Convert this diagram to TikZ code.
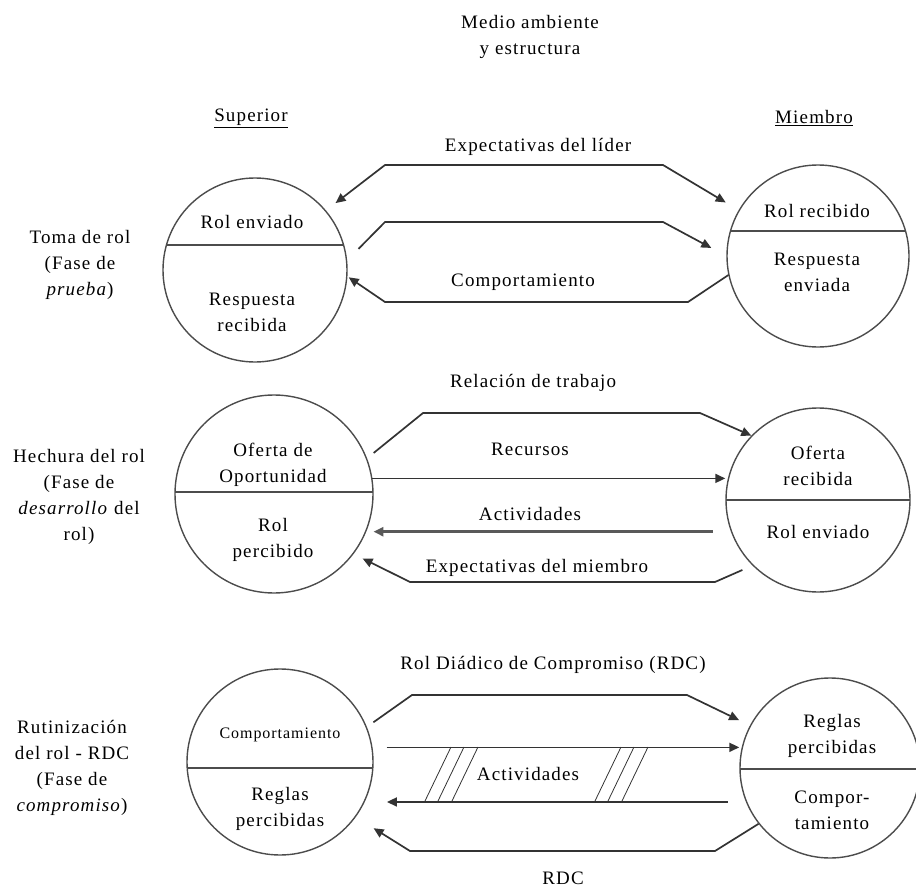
\documentclass[tikz,border=0pt]{standalone}
\usepackage{fontspec}
\setmainfont{Liberation Serif}[LetterSpace=6]
\usetikzlibrary{arrows.meta}
\newcommand{\fsnorm}{\fontsize{19}{26}\selectfont}
\newcommand{\fssmall}{\fontsize{16}{20}\selectfont}

\begin{document}
\begin{tikzpicture}[
    x=1pt, y=-1pt,
    role/.style={circle, draw=black!70, line width=1.4pt, minimum size=#1, inner sep=0pt},
    divider/.style={path picture={\draw[black!70, line width=1.8pt]
        ([yshift=#1]path picture bounding box.west) -- ([yshift=#1]path picture bounding box.east);}},
    txt/.style={align=center, font=\fsnorm, inner sep=1pt},
    link/.style={draw=black!80, line width=1.7pt, >={Triangle[length=10pt,width=9pt]}},
    heavy/.style={link, draw=black!65, line width=3.2pt},
    hatch/.style={draw=black!80, line width=0.8pt}
  ]
  \useasboundingbox (0,0) rectangle (916,888);
  % Headings
  \node[txt] (medio) at (530,37) {Medio ambiente\\y estructura};
  \node[txt] (superior) at (251,118) {\underline{Superior}};
  \node[txt] (miembro) at (814,118) {\underline{Miembro}};
  % Phases
  \node[txt] (fase1) at (80,265) {Toma de rol\\(Fase de\\\textit{prueba})};
  \node[txt] (fase2) at (79,497) {Hechura del rol\\(Fase de\\\textit{desarrollo} del\\rol)};
  \node[txt] (fase3) at (72,768) {Rutinización\\del rol - RDC\\(Fase de\\\textit{compromiso})};
  % Circles
  \node[role=184pt, divider=25pt] (sup1) at (255,270) {};
  \node[role=182pt, divider=25pt] (mie1) at (818,256) {};
  \node[role=198pt, divider=2pt] (sup2) at (274,494) {};
  \node[role=184pt, divider=0pt] (mie2) at (818,500) {};
  \node[role=186pt, divider=-6pt] (sup3) at (280,762) {};
  \node[role=180pt, divider=-1pt] (mie3) at (830,768) {};
  % Circle texts
  \node[txt] (sup1a) at (252,222) {Rol enviado};
  \node[txt] (sup1b) at (252,312) {Respuesta\\recibida};
  \node[txt] (mie1a) at (817,211) {Rol recibido};
  \node[txt] (mie1b) at (817,272) {Respuesta\\enviada};
  \node[txt] (sup2a) at (273,465) {Oferta de\\Oportunidad};
  \node[txt] (sup2b) at (273,540) {Rol\\percibido};
  \node[txt] (mie2a) at (818,466) {Oferta\\recibida};
  \node[txt] (mie2b) at (818,532) {Rol enviado};
  \node[txt, font=\fssmall] (sup3a) at (280,735) {Comportamiento};
  \node[txt] (sup3b) at (280,809) {Reglas\\percibidas};
  \node[txt] (mie3a) at (832,736) {Reglas\\percibidas};
  \node[txt] (mie3b) at (832,810) {Compor-\\tamiento};
  % Toma de rol
  \node[txt] (explider) at (538,147) {Expectativas del líder};
  \node[txt] (comp1) at (523,282) {Comportamiento};
  \draw[link, <->, shorten <=12pt, shorten >=15pt] (sup1.40) -- (385,165) -- (663,165) -- (mie1.150);
  \draw[link, ->, shorten <=16pt, shorten >=17pt] (sup1.6) -- (385,222) -- (663,222) -- (mie1.180);
  \draw[link, ->, shorten >=1.5pt] (mie1.192) -- (688,302) -- (385,302) -- (sup1.-4);
  % Hechura del rol
  \node[txt] (relacion) at (533,383) {Relación de trabajo};
  \node[txt] (recursos) at (530,449) {Recursos};
  \node[txt] (activ2) at (530,514) {Actividades};
  \node[txt] (expmiem) at (537,568) {Expectativas del miembro};
  \draw[link, ->, shorten <=8.5pt] (sup2.21) -- (423,413) -- (700,413) -- (mie2.136);
  \draw[link, ->] (sup2.9) -- (sup2.9 -| mie2.west);
  \draw[heavy, ->, shorten <=18pt, shorten >=7pt] (mie2.-160) -- (mie2.-160 -| sup2.-22);
  \draw[link, ->, shorten <=11pt, shorten >=10pt] (mie2.-135) -- (715,582) -- (410,582) -- (sup2.-37);
  % Rutinizacion
  \node[txt] (rdctop) at (553,665) {Rol Diádico de Compromiso (RDC)};
  \node[txt] (activ3) at (528,774) {Actividades};
  \node[txt] (rdc) at (563,878) {RDC};
  \draw[link, ->, shorten <=8pt, shorten >=12pt] (sup3.22) -- (412,695) -- (687,695) -- (mie3.152);
  \draw[link, ->, shorten <=14pt] (sup3.9) -- (sup3.9 -| mie3.west);
  \draw[link, ->, shorten <=18pt, shorten >=22pt] (mie3.-158) -- (mie3.-158 -| sup3.-25);
  \draw[link, ->, shorten >=21pt] (mie3.-142) -- (715,851) -- (410,851) -- (sup3.-36);
  \foreach \hx in {425,438,452,595,608,622}
    \draw[hatch] (\hx,801) -- ++(26,-54);
\end{tikzpicture}
\end{document}
